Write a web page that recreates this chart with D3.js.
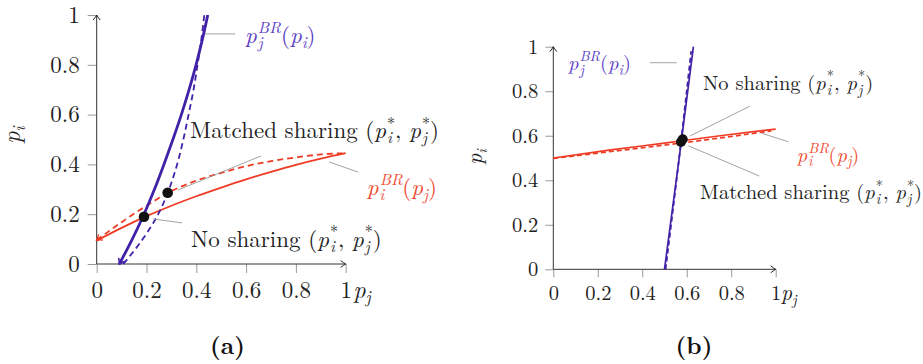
<!DOCTYPE html>
<html>
<head>
<meta charset="utf-8">
<script src="https://cdn.jsdelivr.net/npm/d3@7"></script>
<style>
  body { margin: 0; background: #fff; }
  svg { display: block; }
  text { font-family: "Latin Modern Roman", "CMU Serif", "Liberation Serif", serif; }
</style>
</head>
<body>
<div class="plot"></div>
<script>
// tick values and labels, shared by both panels
const ticks = [0, 0.2, 0.4, 0.6, 0.8, 1];
const tickLabels = ["0", "0.2", "0.4", "0.6", "0.8", "1"];

// panel (a) -- red curves are [p_j, p_i], blue curves are [p_i, p_j]
const aRedSolid = [[0, 0.094], [0.1, 0.145], [0.2, 0.192], [0.3, 0.234], [0.4, 0.272], [0.5, 0.307],
                   [0.6, 0.34], [0.7, 0.37], [0.8, 0.398], [0.9, 0.423], [1, 0.445]];
const aRedDashed = [[0, 0.096], [0.1, 0.168], [0.2, 0.234], [0.285, 0.285], [0.4, 0.335], [0.5, 0.366],
                    [0.6, 0.393], [0.7, 0.413], [0.8, 0.428], [0.9, 0.44], [1, 0.445]];
const aBlueSolid = [[0, 0.091], [0.1, 0.143], [0.2, 0.19], [0.3, 0.232], [0.4, 0.27], [0.5, 0.306],
                    [0.6, 0.34], [0.7, 0.371], [0.8, 0.399], [0.9, 0.424], [1, 0.446]];
const aBlueDashed = [[0, 0.107], [0.1, 0.185], [0.2, 0.247], [0.285, 0.285], [0.4, 0.323], [0.5, 0.348],
                     [0.6, 0.369], [0.7, 0.389], [0.8, 0.405], [0.9, 0.42], [1, 0.432]];
const aNoSharing = [0.19, 0.19];   // [p_j, p_i]
const aMatched = [0.285, 0.286];

// panel (b)
const bRedSolid = [[0, 0.5], [0.25, 0.535], [0.5, 0.567], [0.75, 0.6], [1, 0.63]];
const bRedDashed = [[0, 0.498], [0.25, 0.528], [0.5, 0.558], [0.75, 0.59], [0.98, 0.622]];
const bBlueSolid = [[0, 0.5], [0.25, 0.533], [0.5, 0.566], [0.75, 0.598], [1, 0.63]];
const bBlueDashed = [[0, 0.505], [0.25, 0.536], [0.5, 0.566], [0.75, 0.594], [0.98, 0.62]];
const bNoSharing = [0.582, 0.584];
const bMatched = [0.574, 0.572];

const blue = "#4121a8", blueText = "#5b3cc4";
const red = "#ef3b24", redText = "#ef4a32";

const W = 923, H = 364;
const svg = d3.select(".plot").append("svg").attr("width", W).attr("height", H);

const defs = svg.append("defs");
function arrow(id, color, w) {
  defs.append("marker").attr("id", id)
      .attr("viewBox", "-6 -5 8 10").attr("refX", 0).attr("refY", 0)
      .attr("markerWidth", 8).attr("markerHeight", 10).attr("markerUnits", "userSpaceOnUse")
      .attr("orient", "auto-start-reverse")
    .append("path").attr("d", "M-5,-3.5 Q-2,-1 0,0 Q-2,1 -5,3.5")
      .attr("fill", "none").attr("stroke", color).attr("stroke-width", w);
}
arrow("axArr", "#222", 1);
arrow("redArr", red, 1.4);
arrow("blueArr", blue, 1.6);

// math text: strings are upright, objects {b, sub, sup} are italic with scripts
function mathText(g, x, y, parts, fs, color) {
  const t = g.append("text").attr("x", x).attr("y", y).attr("font-size", fs).attr("fill", color);
  let cur = 0, pend = 0;
  const move = (sel, target, dx) => { sel.attr("dy", target - cur).attr("dx", dx); cur = target; };
  parts.forEach(p => {
    if (typeof p === "string") {
      move(t.append("tspan").text(p), 0, pend); pend = 0;
      return;
    }
    move(t.append("tspan").attr("font-style", "italic").text(p.b), 0, pend); pend = 0;
    let w1 = 0;
    if (p.sup) {
      const s = t.append("tspan").attr("font-size", fs * 0.7)
        .attr("font-style", p.sup === "*" ? null : "italic").text(p.sup);
      move(s, -fs * 0.42, 1);
      w1 = s.node().getComputedTextLength() + 1;
    }
    if (p.sub) {
      const s = t.append("tspan").attr("font-size", fs * 0.7).attr("font-style", "italic").text(p.sub);
      move(s, fs * 0.22, p.sup ? -w1 + 1 : 0);
      const w2 = s.node().getComputedTextLength() + 1;
      if (p.sup && w1 > w2) pend = w1 - w2;
    }
  });
  return t;
}

function panel(cfg) {
  const x = d3.scaleLinear().domain([0, 1]).range([cfg.left, cfg.right]);
  const y = d3.scaleLinear().domain([0, 1]).range([cfg.bottom, cfg.top]);
  const g = svg.append("g");
  const fs = cfg.fs;

  // axes: ticks and labels
  const xa = g.append("g").attr("transform", `translate(0,${y(0)})`)
    .call(d3.axisBottom(x).tickValues(ticks).tickFormat((d, i) => tickLabels[i]).tickSize(cfg.tick));
  const ya = g.append("g").attr("transform", `translate(${x(0)},0)`)
    .call(d3.axisLeft(y).tickValues(ticks).tickFormat((d, i) => tickLabels[i]).tickSize(cfg.tick).tickPadding(cfg.yPad));
  [xa, ya].forEach(a => {
    a.select(".domain").remove();
    a.selectAll("line").attr("stroke", "#9a9a9a");
    a.selectAll("text").attr("font-size", fs).attr("fill", "#222")
      .style("font-family", '"Latin Modern Roman","CMU Serif","Liberation Serif",serif');
  });
  xa.selectAll("text").attr("y", cfg.xLabOff).attr("dy", 0);

  g.append("line").attr("x1", x(0)).attr("y1", y(0)).attr("x2", x(1)).attr("y2", y(0))
    .attr("stroke", "#333").attr("stroke-width", 1).attr("marker-end", "url(#axArr)");
  g.append("line").attr("x1", x(0)).attr("y1", y(0)).attr("x2", x(0)).attr("y2", y(1))
    .attr("stroke", "#333").attr("stroke-width", 1).attr("marker-end", "url(#axArr)");

  // axis names
  mathText(g, x(cfg.xName[0]), y(cfg.xName[1]), [{ b: "p", sub: "j" }], fs * 1.05, "#222");
  mathText(g, 0, 0, [{ b: "p", sub: "i" }], fs * 1.05, "#222")
    .attr("text-anchor", "middle")
    .attr("transform", `translate(${x(cfg.yName[0])},${y(cfg.yName[1])}) rotate(-90)`);

  // curves
  const redLine = d3.line().x(d => x(d[0])).y(d => y(d[1])).curve(d3.curveMonotoneX);
  const blueLine = d3.line().x(d => x(d[1])).y(d => y(d[0])).curve(d3.curveMonotoneY);

  g.append("path").datum(cfg.redDashed).attr("d", redLine).attr("fill", "none")
    .attr("stroke", red).attr("stroke-width", cfg.lw).attr("stroke-dasharray", cfg.dash)
    .attr("marker-start", cfg.arrows ? "url(#redArr)" : null);
  g.append("path").datum(cfg.redSolid).attr("d", redLine).attr("fill", "none")
    .attr("stroke", red).attr("stroke-width", cfg.lw);
  g.append("path").datum(cfg.blueDashed).attr("d", blueLine).attr("fill", "none")
    .attr("stroke", blue).attr("stroke-width", cfg.lw).attr("stroke-dasharray", cfg.dash);
  g.append("path").datum(cfg.blueSolid).attr("d", blueLine).attr("fill", "none")
    .attr("stroke", blue).attr("stroke-width", cfg.blw)
    .attr("marker-start", cfg.arrows ? "url(#blueArr)" : null);

  // equilibrium points
  g.selectAll(".pt").data(cfg.points).join("circle")
    .attr("cx", d => x(d[0])).attr("cy", d => y(d[1])).attr("r", cfg.r).attr("fill", "#111");

  // annotations with pointer lines
  cfg.notes.forEach(n => {
    g.append("line").attr("x1", x(n.line[0])).attr("y1", y(n.line[1]))
      .attr("x2", x(n.line[2])).attr("y2", y(n.line[3]))
      .attr("stroke", "#999").attr("stroke-width", 0.9);
    mathText(g, x(n.at[0]), y(n.at[1]), n.parts, fs, n.color);
  });

  svg.append("text").attr("x", cfg.capX).attr("y", 354).attr("text-anchor", "middle")
    .attr("font-size", 24).attr("font-weight", "bold").attr("fill", "#111").text(cfg.caption);
}

const pjBR = [{ b: "p", sub: "j", sup: "BR" }, "(", { b: "p", sub: "i" }, ")"];
const piBR = [{ b: "p", sub: "i", sup: "BR" }, "(", { b: "p", sub: "j" }, ")"];
const star = [{ b: "p", sub: "i", sup: "*" }, ", ", { b: "p", sub: "j", sup: "*" }, ")"];

panel({
  left: 96.7, right: 345.7, bottom: 264, top: 15, fs: 23, tick: 9, yPad: 8, xLabOff: 34,
  lw: 1.8, blw: 2.8, dash: "6,4", r: 5.3, arrows: true,
  xName: [1.03, -0.137], yName: [-0.31, 0.518],
  redSolid: aRedSolid, redDashed: aRedDashed, blueSolid: aBlueSolid, blueDashed: aBlueDashed,
  points: [aNoSharing, aMatched],
  notes: [
    { at: [0.596, 0.889], line: [0.435, 0.924, 0.556, 0.924], color: blueText, parts: pjBR },
    { at: [0.375, 0.505], line: [0.326, 0.297, 0.66, 0.434], color: "#222", parts: ["Matched sharing ("].concat(star) },
    { at: [1.085, 0.277], line: [0.933, 0.41, 1.05, 0.369], color: redText, parts: piBR },
    { at: [0.379, 0.069], line: [0.226, 0.181, 0.343, 0.165], color: "#222", parts: ["No sharing ("].concat(star) }
  ],
  capX: 227.5, caption: "(a)"
});

panel({
  left: 553.3, right: 775.7, bottom: 269.3, top: 46.7, fs: 20.5, tick: 8, yPad: 7, xLabOff: 31,
  lw: 1.7, blw: 1.7, dash: "5,3", r: 5, arrows: false,
  xName: [1.024, -0.138], yName: [-0.32, 0.505],
  redSolid: bRedSolid, redDashed: bRedDashed, blueSolid: bBlueSolid, blueDashed: bBlueDashed,
  points: [bMatched, bNoSharing],
  notes: [
    { at: [0.066, 0.895], line: [0.435, 0.928, 0.555, 0.928], color: blueText, parts: pjBR },
    { at: [0.673, 0.805], line: [0.615, 0.599, 0.884, 0.733], color: "#222", parts: ["No sharing ("].concat(star) },
    { at: [1.095, 0.483], line: [0.937, 0.611, 1.057, 0.573], color: redText, parts: piBR },
    { at: [0.66, 0.314], line: [0.607, 0.555, 0.926, 0.419], color: "#222", parts: ["Matched sharing ("].concat(star) }
  ],
  capX: 694, caption: "(b)"
});
</script>
</body>
</html>
